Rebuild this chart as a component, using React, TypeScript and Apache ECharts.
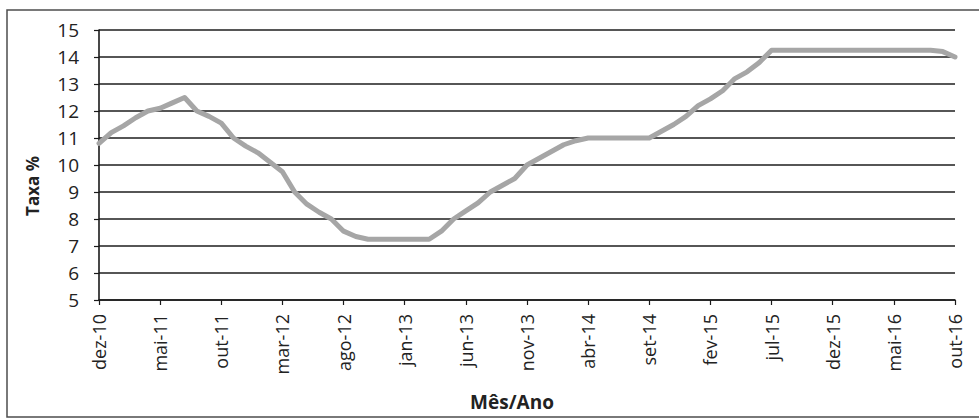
import React, { useEffect, useRef } from "react";
import * as echarts from "echarts";

const months: string[] = [
  "dez-10",
  "jan-11", "fev-11", "mar-11", "abr-11", "mai-11", "jun-11", "jul-11", "ago-11", "set-11", "out-11", "nov-11", "dez-11",
  "jan-12", "fev-12", "mar-12", "abr-12", "mai-12", "jun-12", "jul-12", "ago-12", "set-12", "out-12", "nov-12", "dez-12",
  "jan-13", "fev-13", "mar-13", "abr-13", "mai-13", "jun-13", "jul-13", "ago-13", "set-13", "out-13", "nov-13", "dez-13",
  "jan-14", "fev-14", "mar-14", "abr-14", "mai-14", "jun-14", "jul-14", "ago-14", "set-14", "out-14", "nov-14", "dez-14",
  "jan-15", "fev-15", "mar-15", "abr-15", "mai-15", "jun-15", "jul-15", "ago-15", "set-15", "out-15", "nov-15", "dez-15",
  "jan-16", "fev-16", "mar-16", "abr-16", "mai-16", "jun-16", "jul-16", "ago-16", "set-16", "out-16",
];

const taxa: number[] = [
  10.8,
  11.2, 11.45, 11.75, 12.0, 12.1, 12.3, 12.5, 12.0, 11.8, 11.55, 11.0, 10.7,
  10.45, 10.1, 9.75, 9.0, 8.55, 8.25, 8.0, 7.55, 7.35, 7.25, 7.25, 7.25,
  7.25, 7.25, 7.25, 7.55, 8.0, 8.3, 8.6, 9.0, 9.25, 9.5, 10.0, 10.25,
  10.5, 10.75, 10.9, 11.0, 11.0, 11.0, 11.0, 11.0, 11.0, 11.25, 11.5, 11.8,
  12.2, 12.45, 12.75, 13.2, 13.45, 13.8, 14.25, 14.25, 14.25, 14.25, 14.25, 14.25,
  14.25, 14.25, 14.25, 14.25, 14.25, 14.25, 14.25, 14.25, 14.2, 14.0,
];

const yAxisTitle = "Taxa %";
const xAxisTitle = "Mês/Ano";

const FONT = "'Open Sans', 'DejaVu Sans', sans-serif";

export default function App() {
  const ref = useRef<HTMLDivElement>(null);

  useEffect(() => {
    if (!ref.current) return;
    const chart = echarts.init(ref.current, null, { renderer: "svg" });
    chart.setOption({
      animation: false,
      backgroundColor: "#ffffff",
      grid: { left: 99, right: 24, top: 30, bottom: 119, containLabel: false },
      xAxis: {
        type: "category",
        data: months,
        boundaryGap: false,
        axisLine: { show: true, lineStyle: { color: "#1a1a1a", width: 1.6 } },
        axisTick: {
          show: true,
          interval: 4,
          length: 5,
          lineStyle: { color: "#1a1a1a", width: 1.2 },
        },
        axisLabel: {
          interval: 4,
          rotate: 90,
          margin: 14,
          color: "#222222",
          fontFamily: FONT,
          fontSize: 18,
        },
        splitLine: { show: false },
      },
      yAxis: {
        type: "value",
        min: 5,
        max: 15,
        interval: 1,
        axisLine: { show: true, lineStyle: { color: "#1a1a1a", width: 1.6 } },
        axisTick: { show: true, length: 5, lineStyle: { color: "#1a1a1a", width: 1.2 } },
        axisLabel: {
          margin: 20,
          color: "#222222",
          fontFamily: FONT,
          fontSize: 19,
        },
        splitLine: { show: true, lineStyle: { color: "#1e1e1e", width: 1.6 } },
      },
      series: [
        {
          type: "line",
          data: taxa,
          showSymbol: false,
          symbol: "none",
          lineStyle: { color: "#a6a6a6", width: 5, cap: "round", join: "round" },
        },
      ],
      graphic: [
        {
          type: "rect",
          shape: { x: 7, y: 10, width: 985, height: 407 },
          style: { fill: "none", stroke: "#4d4d4d", lineWidth: 1.5 },
          z: -1,
          silent: true,
        },
        {
          type: "text",
          x: 32,
          y: 186,
          rotation: Math.PI / 2,
          style: {
            text: yAxisTitle,
            fontFamily: FONT,
            fontSize: 17,
            fontWeight: "bold",
            fill: "#222222",
            align: "center",
            verticalAlign: "middle",
          },
        },
        {
          type: "text",
          x: 512,
          y: 402,
          style: {
            text: xAxisTitle,
            fontFamily: FONT,
            fontSize: 19,
            fontWeight: "bold",
            fill: "#222222",
            align: "center",
            verticalAlign: "middle",
          },
        },
      ],
    });
    return () => chart.dispose();
  }, []);

  return (
    <div
      ref={ref}
      style={{ position: "fixed", left: 0, top: 0, width: 979, height: 419 }}
    />
  );
}
